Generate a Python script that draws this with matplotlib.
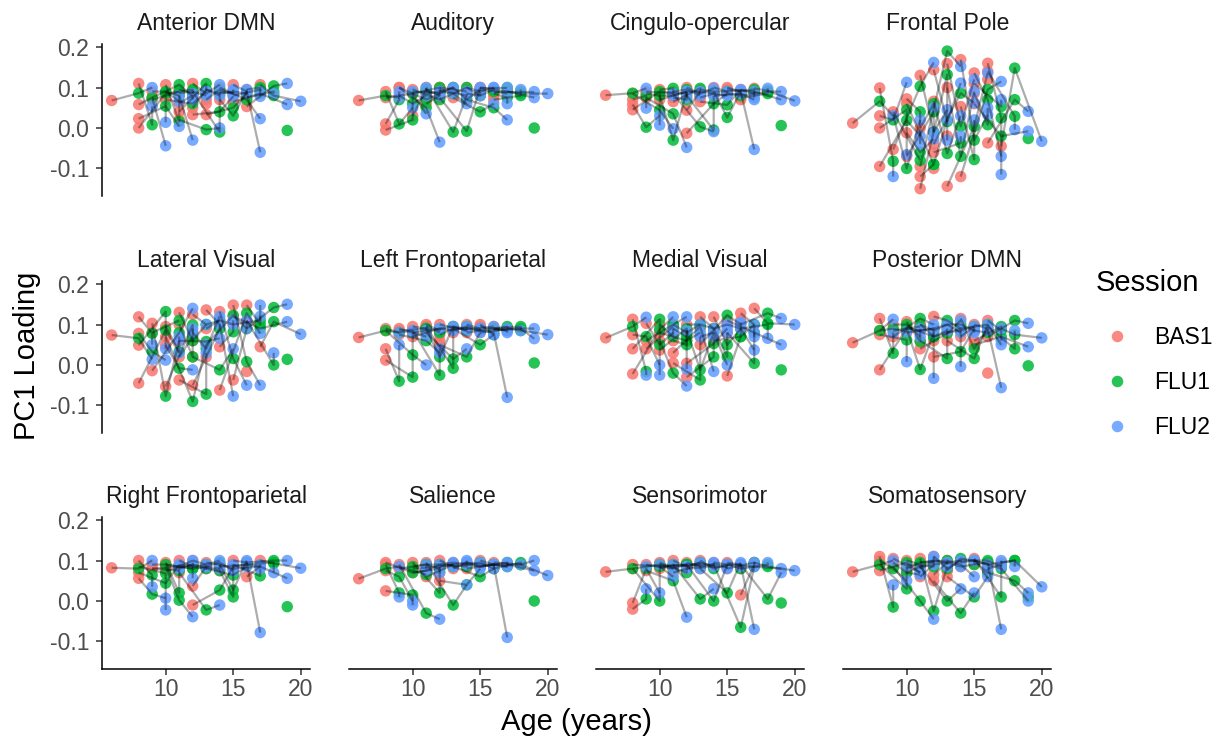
import numpy as np
import matplotlib
matplotlib.use("Agg")
import matplotlib.pyplot as plt
from matplotlib.lines import Line2D
from matplotlib.ticker import FuncFormatter

na = np.nan

panel_titles = ["Anterior DMN", "Auditory", "Cingulo-opercular", "Frontal Pole",
                "Lateral Visual", "Left Frontoparietal", "Medial Visual", "Posterior DMN",
                "Right Frontoparietal", "Salience", "Sensorimotor", "Somatosensory"]
sessions = ["BAS1", "FLU1", "FLU2"]
session_colors = ["#F8766D", "#00BA38", "#619CFF"]
x_ticks = [10, 15, 20]
y_ticks = [-0.1, 0.0, 0.1, 0.2]

# age (years) of each participant at each session
age_bas1 = [6, 8, 8, 8, 8, 9, 9, 10, 10, 10, 10, 11, 11, 11, 11, 12, 12, 12, 12, 13, 13, 13, 14, 14, 14, 15, 15, 16, 16, 17, 15, na, 12, 13, 16, 9, 11, 16, 15]
age_flu1 = [8, 9, 9, 10, 10, 10, 11, 11, 11, 12, 12, 12, 12, 13, 13, 13, 13, 14, 14, 14, 14, 15, 15, 15, 16, 16, 17, 17, 18, 18, 16, 19, na, na, na, 11, 12, 18, 17]
age_flu2 = [9, 9, 10, 10, 11, 11, 12, 11, 12, 12, 13, 13, 12, 14, 13, 14, 14, 15, 14, 15, 15, 16, 16, 15, 17, 17, 17, 17, 19, 20, 16, na, na, na, na, na, na, 18, 19]

# PC1 loadings per network and session
anterior_dmn_bas1 = [.068, .11, .058, .0, .023, .09, .075, .107, .09, .085, .07, .086, .062, .02, .04, .11, .05, .033, .09, .095, .07, .033, .07, .09, .1, .107, .08, .095, .053, .107, .09, na, .085, .06, .09, .07, .095, .075, .065]
anterior_dmn_flu1 = [.086, .008, .075, .086, .054, .09, .107, .016, .08, .095, .06, .09, .08, -.004, .11, .085, .095, .04, -.01, .085, .095, .05, .03, .085, .07, .09, .095, .1, .104, .08, .085, -.006, na, na, na, .09, .085, .09, .085]
anterior_dmn_flu2 = [.1, .054, -.044, .014, .004, .066, .078, .08, -.03, .085, .09, .08, .07, .0, .09, .107, .08, .078, .09, .09, .085, .085, .09, .095, .023, -.06, .078, .09, .11, .066, .095, na, na, na, na, na, na, .085, .058]

auditory_bas1 = [.068, .01, .09, -.005, .075, .08, .1, .09, .03, .085, .095, .085, .06, .1, .07, .09, .1, .075, .095, .085, .1, .075, .1, .085, .07, .095, .1, .085, .09, .09, .08, na, .1, .095, .08, .1, .09, .07, .1]
auditory_flu1 = [.08, .07, .01, .02, .085, .06, .05, .09, .095, .1, .07, .09, .08, -.01, .1, .085, .095, -.008, .08, .1, .07, .04, .09, .08, .05, .09, .1, .075, .09, .085, .095, .0, na, na, na, .07, .085, .08, .09]
auditory_flu2 = [.075, .09, .05, .09, .035, .08, -.035, .1, .08, .09, .085, .1, .09, .08, .095, .06, .09, .1, .085, .08, .095, .06, .1, .09, .02, .085, .1, .06, .09, .085, .1, na, na, na, na, na, na, .095, .075]

cingulo_bas1 = [.081, .07, .058, .045, .085, .085, .075, .095, .08, .09, .07, .09, .075, .085, .065, .1, .044, -.013, .08, .095, .075, .065, .09, .1, .08, .1, .09, .095, .08, .098, .085, na, .09, .08, .07, .09, .08, .075, .095]
cingulo_flu1 = [.086, .08, .002, .09, .044, .08, .035, .098, -.03, .085, .09, .095, .07, .003, .098, .085, .09, .06, -.005, .09, .085, .057, .026, .09, .085, .09, .095, .085, .09, .092, .08, .006, na, na, na, .085, .09, .085, .09]
cingulo_flu2 = [.098, .049, .03, .007, -.002, .08, -.048, .085, .09, .075, .09, .08, .09, -.009, .085, .098, .085, .085, .08, .09, .08, .095, .09, .085, .07, -.053, .075, .09, .09, .067, .085, na, na, na, na, na, na, .098, .07]

frontal_pole_bas1 = [.012, .099, .03, .0, -.095, .033, -.053, .072, -.012, -.07, .06, .13, .0, -.095, -.15, .144, .066, -.04, -.06, .159, .1, -.144, .169, .053, -.12, .136, .11, .16, -.037, -.045, .086, na, -.1, -.02, .12, .04, -.12, .14, .06]
frontal_pole_flu1 = [.066, -.082, .02, .045, .019, -.1, .103, .04, -.06, .04, -.09, -.01, .06, .19, .132, .016, -.063, .086, -.037, .004, -.07, .004, -.03, -.078, .095, .07, .053, .025, .07, .148, .008, -.026, na, na, na, -.08, -.09, .029, -.02]
frontal_pole_flu2 = [.03, -.12, .113, -.066, -.02, .02, .162, -.04, -.027, -.01, .02, .045, .05, .152, -.03, .111, .03, .062, -.02, .12, .09, .136, .033, .02, .115, -.07, .07, -.115, .041, -.033, .05, na, na, na, na, na, na, -.004, -.008]

lateral_visual_bas1 = [.074, .119, .078, .049, -.045, .103, -.014, .095, .049, -.053, .07, .13, .1, .06, -.037, .125, .08, .02, -.05, .136, .09, .05, .132, .045, -.062, .148, .1, .148, .09, .045, -.037, na, .06, .02, -.016, .08, .02, .11, .12]
lateral_visual_flu1 = [.066, .078, .033, .132, .086, -.077, .08, .033, -.008, .099, -.09, .06, .02, .058, -.072, .1, .04, -.012, .09, .1, .11, .123, .016, .082, .128, .008, .11, .1, .142, .107, .09, .014, na, na, na, .11, .07, .0, .09]
lateral_visual_flu2 = [.014, .05, .012, .04, .03, .06, .14, .07, -.012, .08, .05, .1, .09, .066, .03, .11, .12, .04, .1, -.077, .1, .09, -.05, .11, .078, -.05, .148, .12, .15, .076, .11, na, na, na, na, na, na, .03, .107]

left_fp_bas1 = [.068, .04, .09, .012, .085, .09, .075, .095, .08, .085, .07, .09, .1, .08, .095, .09, .075, .05, .1, .095, .085, .09, .1, .08, .09, .095, .085, .09, .085, .09, .1, na, .06, .08, .095, .085, .095, .09, .08]
left_fp_flu1 = [.085, -.04, .08, -.03, .025, .08, .06, .09, .085, -.025, .09, .02, .085, .015, -.008, .095, .09, .02, .085, .09, .095, .05, .09, .085, .08, .09, .095, .085, .09, .085, .075, .005, na, na, na, .09, .08, .095, .09]
left_fp_flu2 = [.08, .05, .085, .08, .0, .07, .03, .085, .09, .04, .085, .095, .09, .04, .09, .085, .09, .08, .095, .09, .085, .075, .095, .09, -.08, .085, .09, .08, .065, .075, .075, na, na, na, na, na, na, .085, .09]

medial_visual_bas1 = [.067, .113, .075, .04, -.022, .103, .06, .1, .06, .037, .08, .1, .06, .03, .005, .1, .086, .004, -.03, .119, .07, .05, .119, .09, .06, .1, .08, .128, .1, .14, -.027, na, .06, .09, .11, .04, .09, .09, .11]
medial_visual_flu1 = [.095, -.016, .07, .113, .088, .05, .1, .07, -.02, .09, .06, .08, .05, .095, -.037, .1, -.012, .053, .02, .09, .08, .123, .05, .02, .07, .09, .004, .1, .128, .103, .07, -.012, na, na, na, .095, .07, .1, .08]
medial_visual_flu2 = [.118, -.025, .0, -.025, .119, .08, .119, .09, -.052, -.01, .08, .1, .085, -.016, .07, .09, .08, .09, .07, .1, .0, .1, .09, .08, .1, .037, .08, .07, .115, .1, .105, na, na, na, na, na, na, .066, .05]

posterior_dmn_bas1 = [.055, .115, .085, .075, -.012, .1, .07, .107, .09, .08, .095, .1, .085, .04, .06, .12, .09, .02, .07, .1, .08, .06, .115, .07, .09, .1, .06, .11, .07, .09, .085, na, .06, .09, -.02, .085, .1, .095, .05]
posterior_dmn_flu1 = [.085, .029, .09, .062, .09, .1, .115, .058, -.011, .09, .07, .085, .09, .078, .016, .11, .1, .033, .09, .1, .085, .016, .04, .095, .1, .09, .095, .085, .11, .075, .08, -.002, na, na, na, .095, .07, .04, .07]
posterior_dmn_flu2 = [.113, .08, .082, .008, .085, .07, .1, .09, .08, .09, .085, .1, -.033, .11, .09, .09, .08, .09, -.004, .085, .095, .1, .09, .08, .05, -.056, .09, .06, .103, .067, .085, na, na, na, na, na, na, .085, .045]

right_fp_bas1 = [.082, .1, .056, .085, .07, .09, .08, .095, .085, .075, .09, .1, .08, .07, .09, .1, .037, -.01, .09, .095, .085, .08, .09, .075, .085, .1, .09, .06, .095, .1, .085, na, .08, .085, .095, .08, .085, .09, .08]
right_fp_flu1 = [.08, .064, .017, .068, .044, .09, .085, .02, .002, .09, .08, .085, .09, -.022, .08, .09, .085, .027, .075, .09, .095, .064, .027, .01, .09, .095, .062, .085, .1, .093, .09, -.014, na, na, na, .075, .08, .095, .085]
right_fp_flu2 = [.1, .035, .007, -.022, .09, .085, .1, .08, -.039, .056, .085, .09, .095, -.01, .085, .1, .08, .085, .09, .08, .075, .085, .1, .09, .085, -.078, .08, .09, .1, .081, .095, na, na, na, na, na, na, .07, .056]

salience_bas1 = [.055, .09, .075, .025, .095, .08, .09, .085, .07, .095, .08, .09, .075, .095, .06, .1, .085, .05, .09, .095, .08, .085, .095, .09, .08, .1, .085, .09, .095, .09, .095, na, .07, .09, .085, .085, .09, .08, .09]
salience_flu1 = [.08, .02, .06, .015, .07, .085, -.03, .09, .075, .02, .085, .09, .08, -.01, .09, .085, .09, .04, .085, .09, .095, .06, .085, .095, .09, .09, .095, .085, .09, .09, .08, .0, na, na, na, .065, .08, .095, .09]
salience_flu2 = [.085, .01, .0, -.01, .075, .09, -.045, .08, .09, .085, .09, .095, .07, .04, .085, .09, .095, .08, .1, .085, .09, .08, .09, .095, .085, -.09, .09, .095, .1, .063, .09, na, na, na, na, na, na, .09, .075]

sensorimotor_bas1 = [.072, -.02, -.005, .08, .09, .085, .075, .09, .08, .095, .085, .1, .08, .09, .07, .095, .085, .09, .08, .09, .1, .08, .095, .085, .09, .095, .08, .015, .09, .095, .09, na, .08, .09, .085, .09, .085, .08, .09]
sensorimotor_flu1 = [.08, .005, .08, .0, .085, .09, .05, .085, .09, .07, .09, .085, .09, .005, .09, .085, .095, .0, .085, .09, .08, .02, .09, .085, -.065, .09, .095, .09, .005, .085, .08, -.005, na, na, na, .08, .09, .09, .085]
sensorimotor_flu2 = [.085, .03, .02, .09, .06, .08, -.04, .09, .085, .08, .09, .095, .085, .03, .08, .09, .085, .09, .095, .085, .09, .095, .09, .08, .085, -.07, .09, .095, .07, .075, .085, na, na, na, na, na, na, .095, .08]

somatosensory_bas1 = [.072, .11, .1, .09, .075, .095, .085, .1, .08, .09, .07, .105, .06, .085, .095, .11, .065, .05, .09, .1, .075, .06, .095, .085, .1, .09, .105, .08, .07, .095, .1, na, .09, .075, .095, .105, .08, .09, .1]
somatosensory_flu1 = [.09, -.015, .08, .03, .095, .07, .0, .09, .095, .085, .1, -.025, .09, .0, .1, .08, .095, -.03, .1, .09, .105, .01, .1, .09, .1, .095, .01, .09, .05, .1, .07, .01, na, na, na, .07, .095, .1, .08]
somatosensory_flu2 = [.1, .04, .05, .085, .07, .065, -.045, .08, .1, .09, .095, .085, .11, .03, .09, .1, .085, .02, .095, .06, .1, .06, .09, .1, .085, -.07, .09, .1, .02, .035, .08, na, na, na, na, na, na, .085, .0]

panel_values = [
    (anterior_dmn_bas1, anterior_dmn_flu1, anterior_dmn_flu2),
    (auditory_bas1, auditory_flu1, auditory_flu2),
    (cingulo_bas1, cingulo_flu1, cingulo_flu2),
    (frontal_pole_bas1, frontal_pole_flu1, frontal_pole_flu2),
    (lateral_visual_bas1, lateral_visual_flu1, lateral_visual_flu2),
    (left_fp_bas1, left_fp_flu1, left_fp_flu2),
    (medial_visual_bas1, medial_visual_flu1, medial_visual_flu2),
    (posterior_dmn_bas1, posterior_dmn_flu1, posterior_dmn_flu2),
    (right_fp_bas1, right_fp_flu1, right_fp_flu2),
    (salience_bas1, salience_flu1, salience_flu2),
    (sensorimotor_bas1, sensorimotor_flu1, sensorimotor_flu2),
    (somatosensory_bas1, somatosensory_flu1, somatosensory_flu2),
]
session_ages = [age_bas1, age_flu1, age_flu2]

plt.rcParams['font.family'] = ['Liberation Sans', 'DejaVu Sans']

W, H = 1220.0, 740.0
fig = plt.figure(figsize=(W / 100, H / 100), dpi=100)
fig.patch.set_facecolor('white')

ax_w, ax_h = 208.0, 151.4
col_lefts = [102.2 + 247.0 * c for c in range(4)]
row_tops = [44.2, 281.2, 517.2]
tick_fs = 16.5
title_fs = 21
text_grey = '#4D4D4D'

fmt = FuncFormatter(lambda v, _: f"{v:.1f}".replace("\u2212", "-"))
n_subj = len(age_bas1)

for i, name in enumerate(panel_titles):
    r, c = divmod(i, 4)
    left, top = col_lefts[c], row_tops[r]
    ax = fig.add_axes([left / W, 1 - (top + ax_h) / H, ax_w / W, ax_h / H])
    ax.set_facecolor('white')
    vals = panel_values[i]
    for ages, v, col in zip(session_ages, vals, session_colors):
        ax.scatter(ages, v, s=68, color=col, alpha=0.85, edgecolors='none', zorder=2)
    for k in range(n_subj):
        pts = [(a[k], v[k]) for a, v in zip(session_ages, vals) if not np.isnan(a[k])]
        if len(pts) > 1:
            pts.sort(key=lambda p: p[0])
            ax.plot([p[0] for p in pts], [p[1] for p in pts], color='black',
                    alpha=0.32, lw=1.6, zorder=3, solid_capstyle='butt')
    ax.set_xlim(5.3, 20.7)
    ax.set_ylim(-0.167, 0.207)
    ax.set_xticks(x_ticks)
    ax.set_yticks(y_ticks)
    ax.yaxis.set_major_formatter(fmt)
    for s in ['top', 'right']:
        ax.spines[s].set_visible(False)
    ax.spines['left'].set_visible(c == 0)
    ax.spines['bottom'].set_visible(r == 2)
    for s in ['left', 'bottom']:
        ax.spines[s].set_linewidth(1.1)
        ax.spines[s].set_color('black')
    ax.tick_params(axis='y', left=(c == 0), labelleft=(c == 0), length=4, width=1.1,
                   color='#333333', labelcolor=text_grey, labelsize=tick_fs, pad=5.5)
    ax.tick_params(axis='x', bottom=(r == 2), labelbottom=(r == 2), length=4, width=1.1,
                   color='#333333', labelcolor=text_grey, labelsize=tick_fs, pad=3)
    ax.text(0.5, 1 + 14.5 / ax_h, name, transform=ax.transAxes, ha='center',
            va='baseline', fontsize=tick_fs, color='#1A1A1A')

fig.text(576.5 / W, 1 - 722 / H, "Age (years)", ha='center', va='center',
         fontsize=title_fs, color='black')
fig.text(27 / W, 1 - 356 / H, "PC1 Loading", ha='center', va='center',
         rotation=90, fontsize=title_fs, color='black')

handles = [Line2D([], [], linestyle='none', marker='o', markersize=8.3,
                  markerfacecolor=col, markeredgecolor='none', alpha=0.85)
           for col in session_colors]
leg = fig.legend(handles, sessions, title="Session", loc='upper left',
                 bbox_to_anchor=(1096 / W, 1 - 269 / H), frameon=False,
                 fontsize=tick_fs, title_fontsize=title_fs, handlelength=1.8,
                 handletextpad=0.75, labelspacing=0.95, borderpad=0, borderaxespad=0)
leg._legend_box.align = "left"
leg._legend_box.sep = 21

fig.savefig("out.png", dpi=100, facecolor='white')
